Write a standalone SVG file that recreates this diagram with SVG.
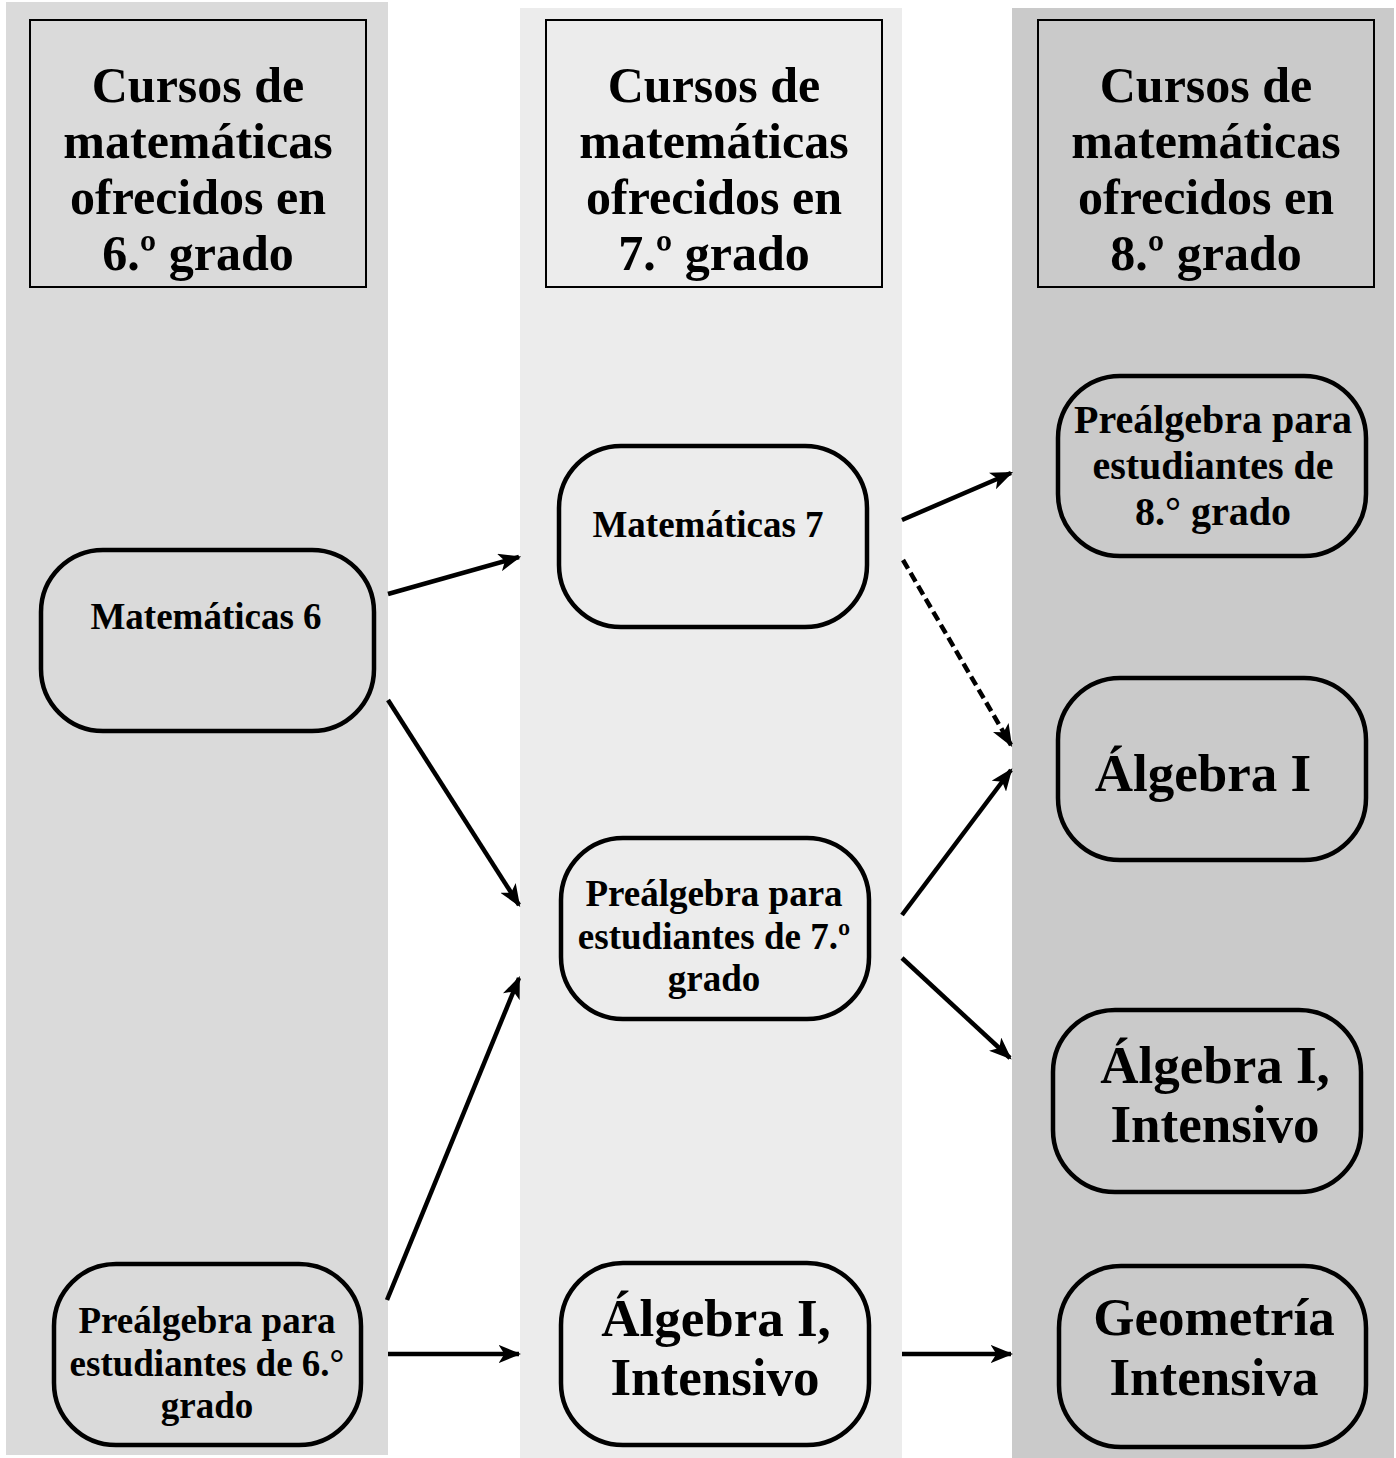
<svg xmlns="http://www.w3.org/2000/svg" width="1396" height="1458" viewBox="0 0 1396 1458">
<style>
text{font-family:"Liberation Serif","Times New Roman",serif;font-weight:bold;fill:#000;text-anchor:middle}
.hdr{font-size:50px}
.n{font-size:37px}
.big{font-size:53px}
.box{stroke:#000;stroke-width:2;fill:none}
.node{stroke:#000;stroke-width:4.5;fill:none}
.c{stroke:#000;stroke-width:4.5;fill:none;marker-end:url(#ah)}
.d{stroke-dasharray:10 5}
</style>
<defs>
<marker id="ah" viewBox="0 0 20 16" refX="18" refY="8" markerWidth="5" markerHeight="4" orient="auto" markerUnits="strokeWidth">
<path d="M0,0 L20,8 L0,16 L5,8 z" fill="#000"/>
</marker>
</defs>
<rect width="1396" height="1458" fill="#fff"/>
<g id="columns">
<rect x="6" y="2" width="382" height="1453" fill="#dadada"/>
<rect x="520" y="8" width="382" height="1450" fill="#ececec"/>
<rect x="1012" y="8" width="382" height="1450" fill="#cacaca"/>
</g>
<g id="h6">
<rect class="box" x="30" y="20" width="336" height="267"/>
<text class="hdr" x="198" y="102">Cursos de</text>
<text class="hdr" x="198" y="158">matemáticas</text>
<text class="hdr" x="198" y="214">ofrecidos en</text>
<text class="hdr" x="198" y="270">6.º grado</text>
</g>
<g id="h7">
<rect class="box" x="546" y="20" width="336" height="267"/>
<text class="hdr" x="714" y="102">Cursos de</text>
<text class="hdr" x="714" y="158">matemáticas</text>
<text class="hdr" x="714" y="214">ofrecidos en</text>
<text class="hdr" x="714" y="270">7.º grado</text>
</g>
<g id="h8">
<rect class="box" x="1038" y="20" width="336" height="267"/>
<text class="hdr" x="1206" y="102">Cursos de</text>
<text class="hdr" x="1206" y="158">matemáticas</text>
<text class="hdr" x="1206" y="214">ofrecidos en</text>
<text class="hdr" x="1206" y="270">8.º grado</text>
</g>
<g id="mat6">
<rect class="node" x="41" y="550" width="333" height="181" rx="62" ry="62"/>
<text class="n" x="206" y="629">Matemáticas 6</text>
</g>
<g id="prealg6">
<rect class="node" x="54" y="1264" width="307" height="181" rx="62" ry="62"/>
<text class="n" x="207" y="1333">Preálgebra para</text>
<text class="n" x="207" y="1376">estudiantes de 6.°</text>
<text class="n" x="207" y="1418">grado</text>
</g>
<g id="mat7">
<rect class="node" x="559" y="446" width="308" height="181" rx="62" ry="62"/>
<text class="n" x="708" y="537">Matemáticas 7</text>
</g>
<g id="prealg7">
<rect class="node" x="561" y="838" width="308" height="181" rx="62" ry="62"/>
<text class="n" x="714" y="906">Preálgebra para</text>
<text class="n" x="714" y="949">estudiantes de 7.º</text>
<text class="n" x="714" y="991">grado</text>
</g>
<g id="alg7">
<rect class="node" x="561" y="1263" width="308" height="182" rx="62" ry="62"/>
<text class="big" x="716" y="1336">Álgebra I,</text>
<text class="big" x="715" y="1395">Intensivo</text>
</g>
<g id="prealg8">
<rect class="node" x="1058" y="376" width="308" height="180" rx="62" ry="62"/>
<text class="n" x="1213" y="433" style="font-size:40px">Preálgebra para</text>
<text class="n" x="1213" y="479" style="font-size:40px">estudiantes de</text>
<text class="n" x="1213" y="525" style="font-size:40px">8.° grado</text>
</g>
<g id="alg8">
<rect class="node" x="1058" y="678" width="308" height="182" rx="62" ry="62"/>
<text class="big" x="1203" y="791">Álgebra I</text>
</g>
<g id="algint8">
<rect class="node" x="1053" y="1010" width="308" height="182" rx="62" ry="62"/>
<text class="big" x="1215" y="1083">Álgebra I,</text>
<text class="big" x="1215" y="1142">Intensivo</text>
</g>
<g id="geo8">
<rect class="node" x="1059" y="1266" width="307" height="181" rx="62" ry="62"/>
<text class="big" x="1214" y="1335">Geometría</text>
<text class="big" x="1214" y="1395">Intensiva</text>
</g>
<g id="connectors">
<line class="c" x1="388" y1="594" x2="519" y2="557"/>
<line class="c" x1="388" y1="700" x2="519" y2="905"/>
<line class="c" x1="387" y1="1300" x2="519" y2="978"/>
<line class="c" x1="388" y1="1354" x2="519" y2="1354"/>
<line class="c" x1="902" y1="520" x2="1011" y2="473"/>
<line class="c d" x1="903" y1="560" x2="1011" y2="745"/>
<line class="c" x1="902" y1="915" x2="1011" y2="770"/>
<line class="c" x1="902" y1="958" x2="1010" y2="1058"/>
<line class="c" x1="902" y1="1354" x2="1011" y2="1354"/>
</g>
</svg>
